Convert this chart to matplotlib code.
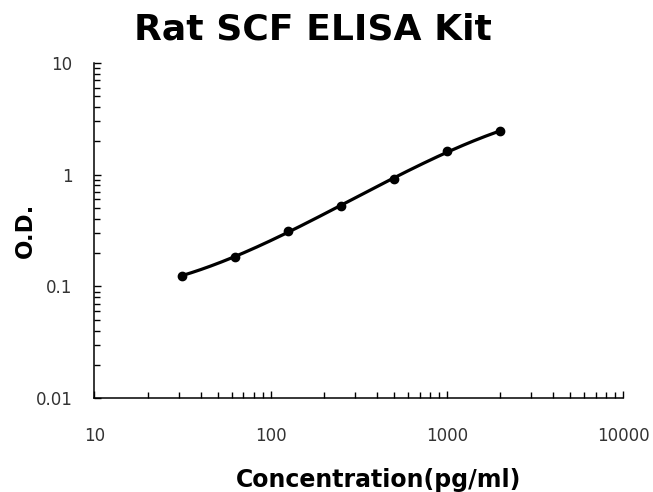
import numpy as np
import matplotlib
matplotlib.use("Agg")
import matplotlib.pyplot as plt
from matplotlib.ticker import LogLocator, NullFormatter, FixedLocator, FixedFormatter

# standard curve
conc = [31.25, 62.5, 125, 250, 500, 1000, 2000]
od = [0.125, 0.182, 0.313, 0.526, 0.905, 1.63, 2.43]

x_ticks = [10, 100, 1000, 10000]
x_tick_labels = ["10", "100", "1000", "10000"]
y_ticks = [0.01, 0.1, 1, 10]
y_tick_labels = ["0.01", "0.1", "1", "10"]

title = "Rat SCF ELISA Kit"
xlabel = "Concentration(pg/ml)"
ylabel = "O.D."

# smooth fitted curve in log-log space
lx = np.log10(conc)
ly = np.log10(od)
coef = np.polyfit(lx, ly, 3)
fit_x = np.linspace(lx[0], lx[-1], 200)
fit_y = np.polyval(coef, fit_x)

fig = plt.figure(figsize=(6.53, 4.92), dpi=100)
ax = fig.add_axes([0.1447, 0.1904, 0.8094, 0.6822])

ax.plot(10 ** fit_x, 10 ** fit_y, color='black', lw=2.3, solid_capstyle='round')
ax.plot(conc, od, 'o', color='black', ms=6)

ax.set_xscale('log')
ax.set_yscale('log')
ax.set_xlim(10, 10000)
ax.set_ylim(0.01, 10)

ax.spines['top'].set_visible(False)
ax.spines['right'].set_visible(False)
for s in ('left', 'bottom'):
    ax.spines[s].set_linewidth(1.1)

ax.xaxis.set_major_locator(FixedLocator(x_ticks))
ax.xaxis.set_major_formatter(FixedFormatter(x_tick_labels))
ax.yaxis.set_major_locator(FixedLocator(y_ticks))
ax.yaxis.set_major_formatter(FixedFormatter(y_tick_labels))
ax.xaxis.set_minor_locator(LogLocator(base=10, subs=np.arange(2, 10)))
ax.yaxis.set_minor_locator(LogLocator(base=10, subs=np.arange(2, 10)))
ax.xaxis.set_minor_formatter(NullFormatter())
ax.yaxis.set_minor_formatter(NullFormatter())

ax.tick_params(axis='both', which='major', direction='in', length=5, width=1,
               labelsize=12, labelcolor='#333333')
ax.tick_params(axis='both', which='minor', direction='in', length=4, width=1)
ax.tick_params(axis='x', which='major', pad=21)
ax.tick_params(axis='y', which='major', pad=16)

fig.text(313 / 653, 1 - 39 / 492, title, fontsize=26, fontweight='bold',
         ha='center', va='baseline')
fig.text(379 / 653, 1 - 487 / 492, xlabel, fontsize=17, fontweight='bold',
         ha='center', va='baseline')
fig.text(25 / 653, 1 - 230 / 492, ylabel, fontsize=16.5, fontweight='bold',
         ha='center', va='center', rotation=90)

fig.savefig("out.png", dpi=100)
